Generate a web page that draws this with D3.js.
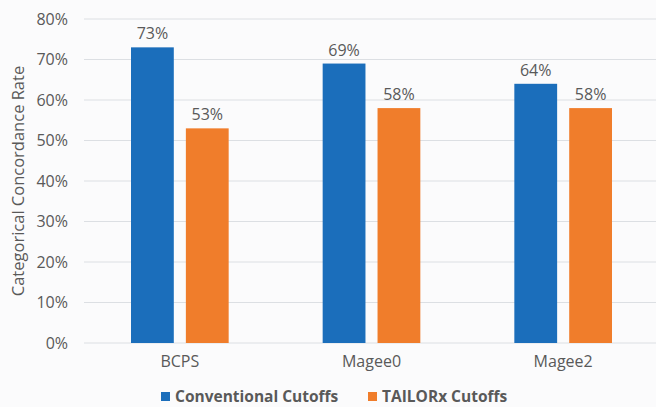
<!DOCTYPE html>
<html>
<head>
<meta charset="utf-8">
<script src="https://cdn.jsdelivr.net/npm/d3@7"></script>
<style>
  body { margin: 0; background: #fbfbfc; }
  text { font-family: "Open Sans", sans-serif; fill: #595959; }
</style>
</head>
<body>
<div id="chart"></div>
<script>
var categories = ["BCPS", "Magee0", "Magee2"];
var seriesNames = ["Conventional Cutoffs", "TAILORx Cutoffs"];
var conventional = [73, 69, 64];
var tailorx = [53, 58, 58];
var yTicks = [0, 10, 20, 30, 40, 50, 60, 70, 80];

var width = 656, height = 407;
var colors = ["#1b6ebb", "#f07d2b"];

var svg = d3.select("#chart").append("svg")
    .attr("width", width)
    .attr("height", height);

svg.append("rect").attr("width", width).attr("height", height).attr("fill", "#fbfbfc");

var x = d3.scaleBand()
    .domain(categories)
    .range([84, 659]);

var xs = d3.scaleBand()
    .domain(seriesNames)
    .range([47, x.bandwidth() - 47])
    .paddingInner(0.22);

var y = d3.scaleLinear()
    .domain([0, 80])
    .range([343, 19]);

// grid lines
svg.append("g")
  .selectAll("line")
  .data(yTicks)
  .enter()
  .append("line")
    .attr("x1", 84)
    .attr("x2", width)
    .attr("y1", function(d) { return y(d); })
    .attr("y2", function(d) { return y(d); })
    .attr("stroke", "#dcdfe3")
    .attr("stroke-width", 1);

// y tick labels
svg.append("g")
  .selectAll("text")
  .data(yTicks)
  .enter()
  .append("text")
    .attr("x", 68)
    .attr("y", function(d) { return y(d); })
    .attr("dy", "0.35em")
    .attr("text-anchor", "end")
    .style("font-size", "16px")
    .text(function(d) { return d + "%"; });

// axis title
svg.append("text")
    .attr("transform", "translate(24,181) rotate(-90)")
    .attr("text-anchor", "middle")
    .style("font-size", "16.5px")
    .text("Categorical Concordance Rate");

var rows = categories.map(function(c, i) {
  return { cat: c, values: [
    { s: seriesNames[0], v: conventional[i], c: colors[0] },
    { s: seriesNames[1], v: tailorx[i], c: colors[1] }
  ]};
});

var groups = svg.append("g")
  .selectAll("g")
  .data(rows)
  .enter()
  .append("g")
    .attr("transform", function(d) { return "translate(" + x(d.cat) + ",0)"; });

groups.selectAll("rect")
  .data(function(d) { return d.values; })
  .enter()
  .append("rect")
    .attr("x", function(d) { return xs(d.s); })
    .attr("width", xs.bandwidth())
    .attr("y", function(d) { return y(d.v); })
    .attr("height", function(d) { return y(0) - y(d.v); })
    .attr("fill", function(d) { return d.c; });

groups.selectAll("text")
  .data(function(d) { return d.values; })
  .enter()
  .append("text")
    .attr("x", function(d) { return xs(d.s) + xs.bandwidth() / 2; })
    .attr("y", function(d) { return y(d.v) - 8; })
    .attr("text-anchor", "middle")
    .style("font-size", "16px")
    .text(function(d) { return d.v + "%"; });

// category labels
svg.append("g")
  .selectAll("text")
  .data(categories)
  .enter()
  .append("text")
    .attr("x", function(d) { return x(d) + x.bandwidth() / 2; })
    .attr("y", 367)
    .attr("text-anchor", "middle")
    .style("font-size", "16px")
    .text(function(d) { return d; });

// legend
var legendX = [161, 368];
var legend = svg.append("g")
  .selectAll("g")
  .data(seriesNames)
  .enter()
  .append("g")
    .attr("transform", function(d, i) { return "translate(" + legendX[i] + ",392)"; });

legend.append("rect")
    .attr("width", 9)
    .attr("height", 9)
    .attr("fill", function(d, i) { return colors[i]; });

legend.append("text")
    .attr("x", 14)
    .attr("y", 9.5)
    .style("font-size", "15.5px")
    .style("font-weight", "bold")
    .text(function(d) { return d; });
</script>
</body>
</html>
